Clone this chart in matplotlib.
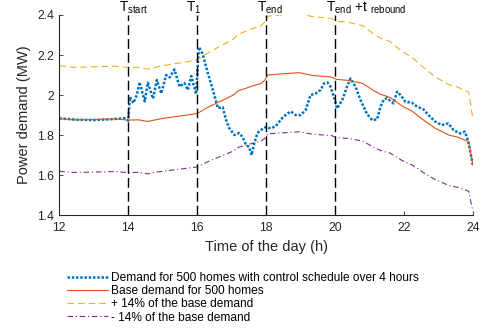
import matplotlib
matplotlib.use('Agg')
import matplotlib.pyplot as plt
from matplotlib.ticker import FuncFormatter
import numpy as np

plt.rcParams['font.family'] = ['Liberation Sans', 'DejaVu Sans']
plt.rcParams['mathtext.fontset'] = 'custom'
plt.rcParams['mathtext.rm'] = 'Liberation Sans'
plt.rcParams['mathtext.it'] = 'Liberation Sans'
plt.rcParams['mathtext.bf'] = 'Liberation Sans:bold'

# base demand of 500 homes (MW)
t_base = [12, 12.4, 12.8, 13.2, 13.6, 14, 14.3, 14.57, 14.9, 15.4, 15.7, 16,
          16.35, 16.75, 17.05, 17.2, 17.4, 17.6, 17.85, 17.97, 18.05, 18.4,
          18.95, 19.35, 19.9, 20.05, 20.4, 20.8, 21.1, 21.3, 21.6, 21.95,
          22.25, 22.55, 22.9, 23.3, 23.55, 23.88, 24]
base = [1.883, 1.876, 1.877, 1.879, 1.881, 1.875, 1.876, 1.868, 1.880, 1.893,
        1.900, 1.908, 1.942, 1.975, 2.000, 2.022, 2.033, 2.045, 2.058, 2.075,
        2.100, 2.105, 2.112, 2.098, 2.090, 2.078, 2.073, 2.058, 2.025, 2.005,
        1.988, 1.945, 1.918, 1.877, 1.835, 1.800, 1.790, 1.767, 1.650]

# demand with the 4 hour control schedule (MW)
t_ctrl = [12, 12.5, 13, 13.5, 13.9, 14.0, 14.05, 14.15, 14.25, 14.33, 14.48,
          14.57, 14.72, 14.83, 14.96, 15.10, 15.2, 15.34, 15.49, 15.63, 15.73,
          15.83, 15.97, 16.05, 16.16, 16.31, 16.45, 16.6, 16.74, 16.84, 16.93,
          17.08, 17.22, 17.32, 17.42, 17.51, 17.58, 17.66, 17.75, 17.85, 17.99,
          18.14, 18.28, 18.47, 18.6, 18.72, 18.86, 19.0, 19.15, 19.29, 19.44,
          19.58, 19.68, 19.78, 19.87, 19.97, 20.06, 20.21, 20.35, 20.45, 20.6,
          20.74, 20.93, 21.08, 21.22, 21.32, 21.41, 21.51, 21.61, 21.7, 21.8,
          21.9, 22.04, 22.23, 22.38, 22.57, 22.71, 22.91, 23.1, 23.29, 23.44,
          23.63, 23.77, 23.87, 24]
ctrl = [1.883, 1.877, 1.875, 1.879, 1.884, 1.872, 1.990, 1.960, 2.000, 2.065,
        1.968, 2.062, 1.982, 2.075, 2.008, 2.100, 2.088, 2.128, 2.042, 2.060,
        2.025, 2.095, 2.005, 2.240, 2.205, 2.110, 2.030, 1.935, 1.940, 1.875,
        1.835, 1.800, 1.810, 1.790, 1.750, 1.740, 1.700, 1.760, 1.810, 1.825,
        1.840, 1.833, 1.845, 1.885, 1.905, 1.918, 1.900, 1.900, 1.925, 2.000,
        2.008, 2.025, 2.058, 2.063, 2.042, 1.990, 1.933, 1.975, 2.042, 2.083,
        2.040, 1.975, 1.905, 1.875, 1.878, 1.942, 1.975, 1.985, 1.970, 1.958,
        2.017, 2.000, 1.967, 1.962, 1.942, 1.928, 1.900, 1.867, 1.850, 1.858,
        1.825, 1.808, 1.817, 1.767, 1.650]

band = 0.14  # +/- 14% of the base demand
events = [14, 16, 18, 20]
event_labels = ['T$_{start}$', 'T$_{1}$', 'T$_{end}$', 'T$_{end}$ +t ${}_{rebound}$']
event_label_x = [13.73, 15.68, 17.75, 19.73]

base = np.array(base)

fig = plt.figure(figsize=(4.82, 3.33), dpi=100)
ax = fig.add_axes([0.123, 0.354, 0.858, 0.601])

ax.plot(t_ctrl, ctrl, color='#0072BD', lw=1.8, linestyle=(0, (1, 0.7)),
        label='Demand for 500 homes with control schedule over 4 hours')
ax.plot(t_base, base, color='#D95319', lw=0.8, label='Base demand for 500 homes')
ax.plot(t_base, base * (1 + band), color='#EDB120', lw=0.8,
        linestyle=(0, (6, 3.5)), label='+ 14% of the base demand')
ax.plot(t_base, base * (1 - band), color='#7E2F8E', lw=0.8,
        linestyle=(0, (5, 2.5, 1, 2.5)), label='- 14% of the base demand')

for t in events:
    ax.axvline(t, color='k', lw=1.0, linestyle=(0, (7, 3)))
for lx, txt in zip(event_label_x, event_labels):
    ax.text(lx, 2.417, txt, ha='left', va='baseline', fontsize=9.8)

ax.set_xlim(12, 24)
ax.set_ylim(1.4, 2.4)
ax.set_xticks(range(12, 25, 2))
ax.set_yticks(np.arange(1.4, 2.41, 0.2))
ax.yaxis.set_major_formatter(FuncFormatter(lambda v, p: '%g' % round(v, 2)))
ax.tick_params(direction='in', length=3, labelsize=8.8, colors='#262626', width=0.6)
ax.tick_params(axis='x', pad=5)
for s in ['top', 'right']:
    ax.spines[s].set_visible(False)
for s in ['left', 'bottom']:
    ax.spines[s].set_color('#262626')
    ax.spines[s].set_linewidth(0.8)

ax.set_xlabel('Time of the day (h)', fontsize=10.5, color='#262626', labelpad=4)
ax.set_ylabel('Power demand (MW)', fontsize=10.5, color='#262626', labelpad=5)

ax.legend(loc='upper left', bbox_to_anchor=(0.139, 0.183), bbox_transform=fig.transFigure,
          frameon=False, fontsize=8.6, borderpad=0, borderaxespad=0,
          handlelength=3.4, handletextpad=0.25, labelspacing=0.1)

fig.savefig('out.png', dpi=100)
